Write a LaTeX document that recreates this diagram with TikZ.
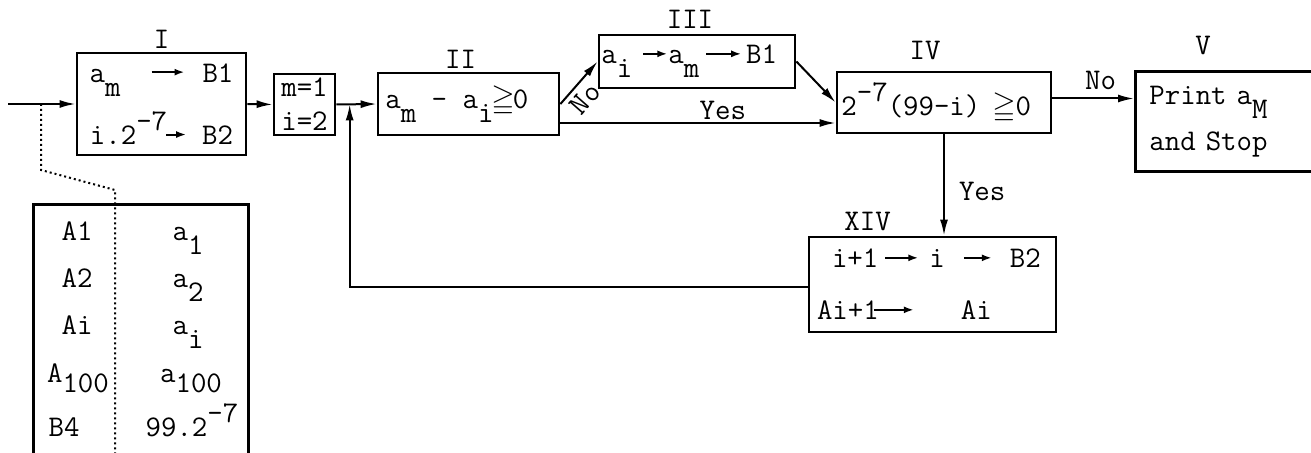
\documentclass[tikz,border=0pt]{standalone}
\usepackage{amssymb}
\usetikzlibrary{positioning, arrows.meta, calc}

\newcommand{\lo}[2][7pt]{\raisebox{-#1}{#2}}
\newcommand{\hi}[2][7pt]{\raisebox{#1}{#2}}
\newcommand{\tarrow}[1][14pt]{\tikz[baseline=-5pt]\draw[-{Latex[length=5pt,width=3.5pt]},line width=1pt] (0pt,0pt) -- (#1,0pt);}

\begin{document}
\begin{tikzpicture}[
  x=0.5pt, y=-0.5pt,
  font=\fontsize{15}{18}\selectfont\ttfamily,
  >={Latex[length=8pt,width=4pt]},
  line width=1pt,
  box/.style={draw, line width=1.4pt, inner sep=0pt, align=center},
  lbl/.style={inner sep=0pt}
]
  \useasboundingbox (0,0) rectangle (1311,453);

  \node[box, minimum width=84.5pt, minimum height=51pt] (one) at (161.5,104) {
    a\lo{m}\hspace{15pt}\tarrow[16.5pt]\hspace{8.5pt}B1\\[6.8pt]
    i.2\hi{-7}\hspace{-1pt}\tarrow[10pt]\hspace{7.5pt}B2
  };
  \node[lbl, above=1pt of one.north] {I};

  \node[box, minimum width=30.5pt, minimum height=30.5pt] (mi) at (304.5,104.5) {m=1\\[-1pt]i=2};

  \node[box, minimum width=90.5pt, minimum height=31pt] (two) at (468.5,104) {
    a\lo{m} - a\lo{i}\hspace{-1pt}$\geqq$\hspace{-1pt}0\hspace{4pt}
  };
  \node[lbl, above=1pt of two.north, xshift=-4pt] {II};

  \node[box, minimum width=98pt, minimum height=26.5pt] (three) at (697,61.5) {
    a\lo{i}\hspace{5pt}\tarrow[12pt]a\lo{m}\hspace{3pt}\tarrow[17.5pt]\hspace{2pt}B1
  };
  \node[lbl, above=2pt of three.north, xshift=-3.5pt] {III};

  \node[box, minimum width=107pt, minimum height=30.5pt] (four) at (944,102.5) {
    2\hi{-7}(99-i)\hspace{6pt}$\geqq$0
  };
  \node[lbl, above=5pt of four.north, xshift=-9.5pt] {IV};

  \node[box, anchor=north west, text width=90pt, inner xsep=7pt, align=left,
        minimum height=50pt] (five) at (1134,70) {
    Print a\lo{M}\\[5pt]
    and Stop
  };
  \node[lbl, above=7pt of five.north west, xshift=34.5pt] {V};

  \node[box, text width=115.5pt, inner xsep=4pt, align=left,
        minimum height=47.5pt] (xiv) at (932.5,284.5) {
    \hspace*{7.5pt}i+1\hspace{3pt}\tarrow[16.5pt]\hspace{5pt}i\hspace{9pt}\tarrow[14pt]\hspace{8.5pt}B2\\[8pt]
    Ai+1\hspace{-3pt}\tarrow[20pt]\hspace{23pt}Ai
  };
  \node[lbl, above=2pt of xiv.north west, xshift=30pt] {XIV};

  \node[box, anchor=north west, minimum width=107.5pt, minimum height=140pt] (tab) at (32,203) {};
  \node[lbl, anchor=base] (addr1) at (77,241) {A1};
  \node[lbl, anchor=base] (addr2) at (77,288) {A2};
  \node[lbl, anchor=base] (addr3) at (77,335) {Ai};
  \node[lbl, anchor=base] (addr4) at (78,383) {A\lo[5pt]{100}};
  \node[lbl, anchor=base] (addr5) at (64,437) {B4};
  \node[lbl, anchor=base] (cont1) at (188,241) {a\lo{1}};
  \node[lbl, anchor=base] (cont2) at (188,288) {a\lo{2}};
  \node[lbl, anchor=base] (cont3) at (188,335) {a\lo{i}};
  \node[lbl, anchor=base] (cont4) at (191,383) {a\lo[5pt]{100}};
  \node[lbl, anchor=base] (cont5) at (192,437) {99.2\hi{-7}};

  \coordinate (start) at (8,104);
  \coordinate (split) at (41,104);
  \coordinate (bend1) at (41,170);
  \coordinate (bend2) at (115,190);
  \coordinate (sepend) at (115,470);
  \coordinate (join) at ($(mi.east)!0.33!(two.west)$);

  \draw[->] (start) -- (one.west);
  \draw[dash pattern=on 1pt off 1.5pt] (split) -- (bend1) -- (bend2) -- (sepend);
  \draw[->] (one.east) -- (mi.west);
  \draw[->] (mi.east) -- (two.west);
  \draw[->] (two.east) -- (three.west) node[pos=0.36, sloped, below=2.5pt, lbl] {No};
  \draw[->] ([yshift=-9.5pt]two.east) coordinate (yes1) -- (yes1 -| four.west) node[pos=0.59, above=1pt, lbl] {Yes};
  \draw[->] (three.east) -- (four.west);
  \draw[->] ([yshift=2pt]four.east) coordinate (no1) -- (no1 -| five.west) node[pos=0.59, above=4pt, lbl] {No};
  \draw[->] (four.south) -- (four.south |- xiv.north) node[pos=0.56, right=7pt, lbl] {Yes};
  \draw[->] ([yshift=-1.25pt]xiv.west) -| (join);
\end{tikzpicture}
\end{document}
